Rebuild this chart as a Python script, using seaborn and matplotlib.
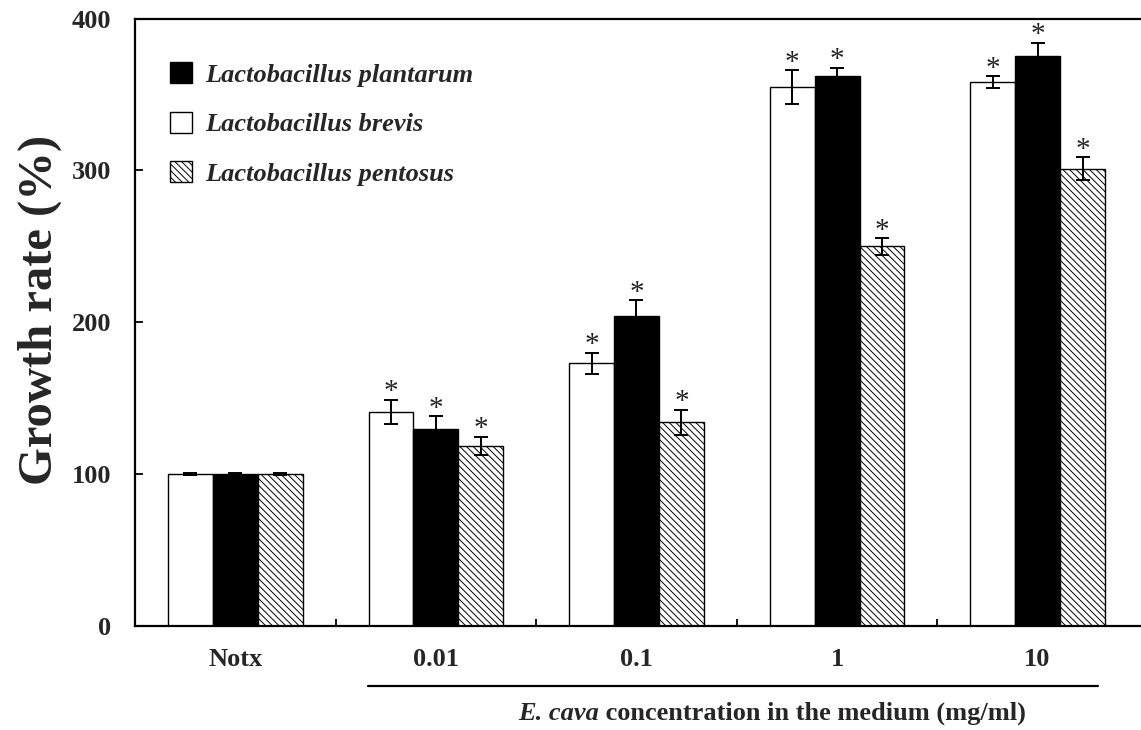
import matplotlib
matplotlib.use("Agg")
import matplotlib.pyplot as plt
from matplotlib.patches import Patch
import numpy as np
import pandas as pd
import seaborn as sns

# ---- data -------------------------------------------------------------
concentrations = ["Notx", "0.01", "0.1", "1", "10"]
strains = ["Lactobacillus brevis", "Lactobacillus plantarum", "Lactobacillus pentosus"]

brevis_mean = [100, 141, 173, 355, 358]
brevis_err = [0.5, 8, 7, 11, 4]
plantarum_mean = [100, 130, 204, 362, 375]
plantarum_err = [0.5, 8, 10.5, 5.5, 9]
pentosus_mean = [100, 118.5, 134, 250, 301]
pentosus_err = [0.5, 6, 8.5, 5.5, 7.5]

significant = [False, True, True, True, True]

means = {strains[0]: brevis_mean, strains[1]: plantarum_mean, strains[2]: pentosus_mean}
errs = {strains[0]: brevis_err, strains[1]: plantarum_err, strains[2]: pentosus_err}

rows = []
for s in strains:
    for c, m, e in zip(concentrations, means[s], errs[s]):
        rows.append({"conc": c, "strain": s, "growth": m, "err": e})
df = pd.DataFrame(rows)

# ---- style ------------------------------------------------------------
sns.set_theme(style="ticks")
plt.rcParams["font.family"] = ["Liberation Serif", "DejaVu Serif"]
plt.rcParams["hatch.linewidth"] = 0.7
plt.rcParams["hatch.color"] = "#333333"

W, H, DPI = 1141, 730, 100
fig = plt.figure(figsize=(W / DPI, H / DPI), dpi=DPI)
ax = fig.add_axes([135 / W, (H - 626) / H, (W - 135) / W, (626 - 18.5) / H])

face = {strains[0]: "white", strains[1]: "black", strains[2]: "white"}
hatch = {strains[0]: "", strains[1]: "", strains[2]: "\\\\\\\\\\"}

sns.barplot(data=df, x="conc", y="growth", hue="strain", order=concentrations,
            hue_order=strains, errorbar=None, width=0.673, dodge=True,
            palette=face, edgecolor="black", linewidth=1.0, legend=False, ax=ax)

# style bars per strain, then add error bars and significance marks
for cont, s in zip(ax.containers, strains):
    for i, bar in enumerate(cont):
        bar.set_facecolor(face[s])
        bar.set_edgecolor("black")
        bar.set_hatch(hatch[s])
        xc = bar.get_x() + bar.get_width() / 2
        top = bar.get_height()
        e = errs[s][i]
        ax.errorbar(xc, top, yerr=e, fmt="none", ecolor="black",
                    elinewidth=1.4, capsize=5, capthick=1.4, zorder=4)
        if significant[i]:
            ax.annotate("*", (xc, top + e), xytext=(0, -4), textcoords="offset points",
                        ha="center", va="bottom", fontsize=21, color="#222222")

# ---- axes -------------------------------------------------------------
ax.set_ylim(0, 400)
ax.set_xlim(-0.501, 4.516)
ax.set_yticks([0, 100, 200, 300, 400])
ax.set_yticklabels(["0", "100", "200", "300", "400"], fontsize=19, fontweight="bold")
ax.set_xticks(range(len(concentrations)))
ax.set_xticklabels(concentrations, fontsize=19, fontweight="bold")
ax.tick_params(axis="x", which="major", length=0, pad=16)
ax.set_xticks([0.5, 1.5, 2.5, 3.5], minor=True)
ax.tick_params(axis="x", which="minor", direction="in", length=5, width=1.3, color="black")
ax.tick_params(axis="y", direction="in", length=6, width=1.3, pad=17, color="black")

for side in ["left", "bottom", "top"]:
    ax.spines[side].set_linewidth(1.6)
    ax.spines[side].set_color("black")
ax.spines["right"].set_visible(False)

ax.set_xlabel("")
ax.set_ylabel("Growth rate (%)", fontsize=35, fontweight="bold")
ax.yaxis.set_label_coords(-0.073, 0.52)

# bracket line under the treated concentrations and its caption
ax.plot([0.66, 4.30], [-0.0988, -0.0988], color="black", lw=1.6,
        transform=ax.get_xaxis_transform(), clip_on=False)
cap1 = fig.text(518 / W, (H - 720) / H, "E. cava", fontsize=19,
                fontweight="bold", fontstyle="italic", va="baseline", ha="left")
fig.canvas.draw()
bb = cap1.get_window_extent()
fig.text(bb.x1 / W, (H - 720) / H, " concentration in the medium (mg/ml)",
         fontsize=19, fontweight="bold", va="baseline", ha="left")

# legend: plantarum, brevis, pentosus
handles = [Patch(facecolor="black", edgecolor="black", label="Lactobacillus plantarum"),
           Patch(facecolor="white", edgecolor="black", label="Lactobacillus brevis"),
           Patch(facecolor="white", edgecolor="black", hatch="\\\\\\\\\\",
                 label="Lactobacillus pentosus")]
ax.legend(handles=handles, loc="upper left", bbox_to_anchor=(0.035, 0.928),
          frameon=False, borderaxespad=0, borderpad=0, handlelength=0.83,
          handleheight=0.83, handletextpad=0.5, labelspacing=0.95,
          prop={"family": "Liberation Serif", "weight": "bold", "style": "italic",
                "size": 19})

fig.savefig("out.png", dpi=DPI, facecolor="white")
